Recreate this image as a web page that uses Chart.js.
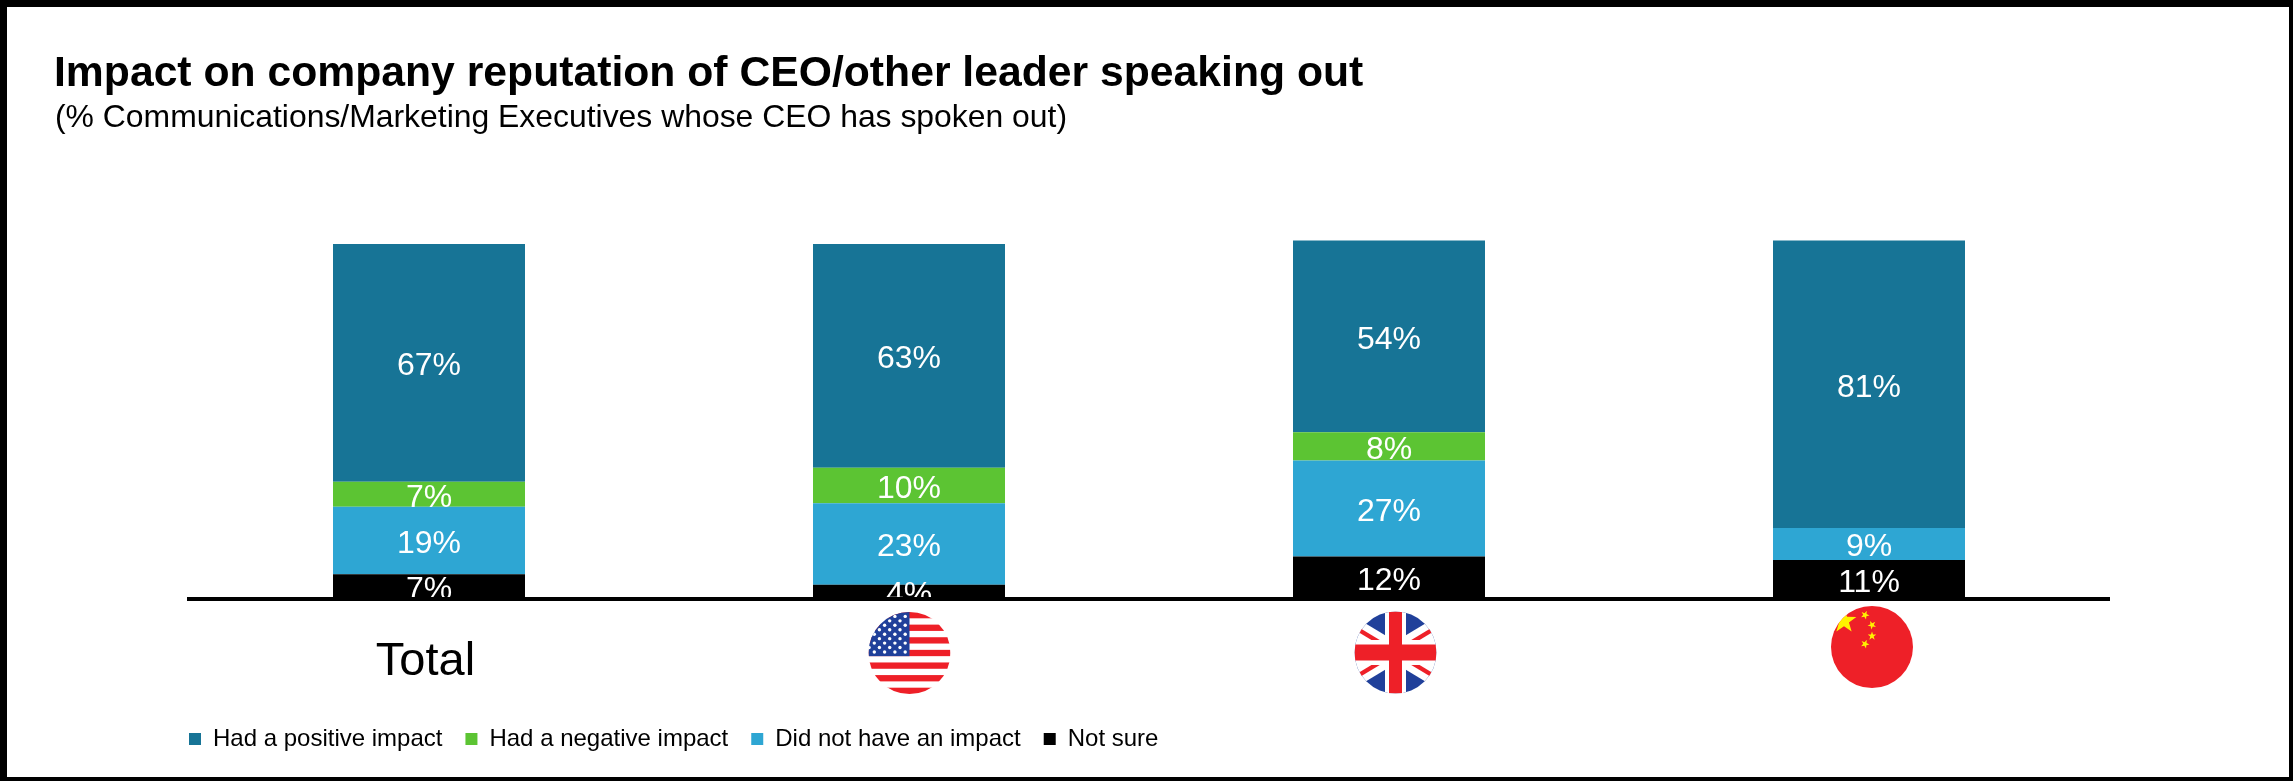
<!DOCTYPE html>
<html>
<head>
<meta charset="utf-8">
<title>Impact on company reputation</title>
<script src="https://cdn.jsdelivr.net/npm/chart.js@4"></script>
<style>
  html, body { margin: 0; padding: 0; background: #fff; }
  #frame { position: relative; width: 2293px; height: 781px; overflow: hidden; font-family: "Liberation Sans", Arial, sans-serif; color: #000; }
  #frame:after { content: ""; position: absolute; left: 0; top: 0; right: 0; bottom: 0; border: solid #000; border-width: 7px 4px 4px 7px; pointer-events: none; }
  #chart { position: absolute; left: 0; top: 0; }
  h1 { position: absolute; left: 54px; top: 48px; margin: 0; font-size: 42.7px; line-height: 46px; font-weight: bold; white-space: nowrap; }
  h2 { position: absolute; left: 55px; top: 98px; margin: 0; font-size: 31.9px; line-height: 36px; font-weight: normal; white-space: nowrap; }
</style>
</head>
<body>
<div id="frame">
  <canvas id="chart" width="2293" height="781"></canvas>
  <h1>Impact on company reputation of CEO/other leader speaking out</h1>
  <h2>(% Communications/Marketing Executives whose CEO has spoken out)</h2>
</div>
<script>
const categories = ["Total", "United States", "United Kingdom", "China"];
const positive = [67, 63, 54, 81];
const negative = [7, 10, 8, 0];
const noImpact = [19, 23, 27, 9];
const notSure = [7, 4, 12, 11];

function flagUS(ctx, x, y, r) {
  ctx.fillStyle = "#fff";
  ctx.fillRect(x - r, y - r, r * 2, r * 2);
  ctx.fillStyle = "#ee2028";
  const h = r * 2 / 13;
  for (let i = 0; i < 13; i += 2) ctx.fillRect(x - r, y - r + i * h, r * 2, h);
  ctx.fillStyle = "#20409a";
  ctx.fillRect(x - r, y - r, r, h * 7);
  ctx.fillStyle = "#fff";
  for (let row = 0; row < 9; row++) {
    const shift = row % 2 ? 9.5 : 4.3;
    for (let col = 0; col < 4; col++) {
      ctx.beginPath();
      ctx.arc(x - shift - col * 10.3, y - 1 - row * 4.45, 1.7, 0, Math.PI * 2);
      ctx.fill();
    }
  }
}

function flagUK(ctx, x, y, r) {
  ctx.fillStyle = "#20409a";
  ctx.fillRect(x - r, y - r, r * 2, r * 2);
  [-1, 1].forEach(function (sx) {
    [-1, 1].forEach(function (sy) {
      // white band around the shallow diagonal, red part on the side of the horizontal bar
      ctx.fillStyle = "#fff";
      ctx.beginPath();
      ctx.moveTo(0 + x, y - sy * 11);
      ctx.lineTo(x + sx * 60, y + sy * (36 - 11));
      ctx.lineTo(x + sx * 60, y + sy * (36 + 11));
      ctx.lineTo(x, y + sy * 11);
      ctx.closePath();
      ctx.fill();
      ctx.fillStyle = "#ee2028";
      ctx.beginPath();
      ctx.moveTo(x, y - sy * 2);
      ctx.lineTo(x + sx * 60, y + sy * (36 - 2));
      ctx.lineTo(x + sx * 60, y + sy * (36 + 3));
      ctx.lineTo(x, y + sy * 3);
      ctx.closePath();
      ctx.fill();
    });
  });
  ctx.fillStyle = "#fff";
  ctx.fillRect(x - 10.5, y - r, 21, r * 2);
  ctx.fillRect(x - r, y - 12.5, r * 2, 25);
  ctx.fillStyle = "#ee2028";
  ctx.fillRect(x - 6.5, y - r, 13, r * 2);
  ctx.fillRect(x - r, y - 8, r * 2, 16);
}

function star(ctx, x, y, r, rot) {
  ctx.beginPath();
  for (let i = 0; i < 10; i++) {
    const a = rot - Math.PI / 2 + i * Math.PI / 5;
    const rr = i % 2 ? r * 0.4 : r;
    ctx.lineTo(x + Math.cos(a) * rr, y + Math.sin(a) * rr);
  }
  ctx.closePath();
  ctx.fill();
}

function flagCN(ctx, x, y, r) {
  ctx.fillStyle = "#ee2028";
  ctx.fillRect(x - r, y - r, r * 2, r * 2);
  ctx.fillStyle = "#fff200";
  star(ctx, x - 28, y - 26, 13, 0);
  star(ctx, x - 7, y - 32, 4.5, 0.4);
  star(ctx, x, y - 22, 4.5, 0.8);
  star(ctx, x, y - 11, 4.5, 0);
  star(ctx, x - 7, y - 3, 4.5, 0.4);
}

// flags sit under the axis where the tick labels would be
const flagPlugin = {
  id: "flags",
  afterDraw(chart) {
    const ctx = chart.ctx;
    const xs = chart.scales.x;
    const flags = [null, [flagUS, 0.5, 653], [flagUK, 6.5, 652.5], [flagCN, 3, 647]];
    flags.forEach(function (f, i) {
      if (!f) return;
      const x = xs.getPixelForValue(i) + f[1];
      ctx.save();
      ctx.beginPath();
      ctx.arc(x, f[2], 41, 0, Math.PI * 2);
      ctx.clip();
      f[0](ctx, x, f[2], 41);
      ctx.restore();
    });
  }
};

// labels are clipped at the axis, the short segments lose the bottom of the text
const valueLabels = {
  id: "valueLabels",
  afterDatasetsDraw(chart) {
    const ctx = chart.ctx;
    const area = chart.chartArea;
    ctx.save();
    ctx.beginPath();
    ctx.rect(area.left, area.top, area.right - area.left, area.bottom - area.top - 2);
    ctx.clip();
    ctx.fillStyle = "#fff";
    ctx.font = "32px 'Liberation Sans', Arial, sans-serif";
    ctx.textAlign = "center";
    ctx.textBaseline = "middle";
    chart.data.datasets.forEach(function (ds, d) {
      chart.getDatasetMeta(d).data.forEach(function (bar, i) {
        if (!ds.data[i]) return;
        ctx.fillText(ds.data[i] + "%", bar.x, (bar.y + bar.base) / 2 + 3.5);
      });
    });
    ctx.restore();
  }
};

// legend starts flush with the axis, not one padding in
const legendShift = {
  id: "legendShift",
  beforeDraw(chart) {
    chart.legend.left = chart.chartArea.left - 23;
    chart.legend.top = 704;
  }
};

new Chart(document.getElementById("chart"), {
  type: "bar",
  data: {
    labels: categories,
    datasets: [
      { label: "Not sure", data: notSure, backgroundColor: "#000000" },
      { label: "Did not have an impact", data: noImpact, backgroundColor: "#2ea6d3" },
      { label: "Had a negative impact", data: negative, backgroundColor: "#5cc433" },
      { label: "Had a positive impact", data: positive, backgroundColor: "#177496" }
    ]
  },
  options: {
    responsive: false,
    animation: false,
    events: [],
    layout: { padding: { left: 189, right: 184, top: 173, bottom: 25 } },
    datasets: { bar: { categoryPercentage: 1, barPercentage: 0.4 } },
    plugins: {
      title: { display: false },
      tooltip: { enabled: false },
      legend: {
        position: "bottom",
        align: "start",
        reverse: true,
        labels: {
          boxWidth: 12,
          boxHeight: 12,
          padding: 23,
          color: "#000",
          font: { family: "'Liberation Sans', Arial, sans-serif", size: 24 }
        }
      }
    },
    scales: {
      x: {
        stacked: true,
        grid: { display: false, drawTicks: false },
        border: { display: true, color: "#000", width: 4, z: 1 },
        afterFit(scale) { scale.height = 100; },
        ticks: {
          color: "#000",
          padding: 35,
          labelOffset: -3.5,
          maxRotation: 0,
          autoSkip: false,
          font: { family: "'Liberation Sans', Arial, sans-serif", size: 47 },
          callback(value, i) { return i === 0 ? categories[i] : ""; }
        }
      },
      y: { stacked: true, display: false, min: 0, max: 120 }
    }
  },
  plugins: [valueLabels, flagPlugin, legendShift]
});
</script>
</body>
</html>
